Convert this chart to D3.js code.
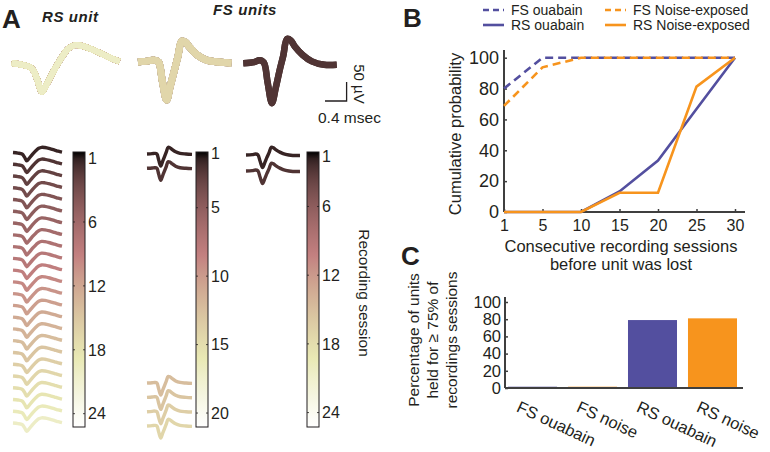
<!DOCTYPE html>
<html><head><meta charset="utf-8">
<script src="https://cdn.jsdelivr.net/npm/d3@7"></script>
<style>
body{margin:0;background:#fff}
svg{display:block}
text{font-family:"Liberation Sans",Arial,Helvetica,sans-serif;fill:#231f20}
</style>
</head><body>
<svg id="c" width="770" height="452"></svg>
<script>
// ---------------- DATA ----------------
// Panel A: waveform templates (time in ms, amplitude in µV)
const rsTime = [0, 0.2, 0.37, 0.47, 0.56, 0.65, 0.8, 0.95, 1.05, 1.17, 1.3, 1.5, 1.7, 1.85, 2.0];
const rsAmp  = [0, -5, -14, -42, -76, -55, -15, 20, 38, 47, 45, 35, 22, 12, 4];
const fsTime = [0, 0.2, 0.3, 0.38, 0.45, 0.53, 0.6, 0.67, 0.74, 0.81, 0.88, 0.95, 1.1, 1.27, 1.5, 1.73];
const fs1Amp = [0, 3, 5, 0, -50, -100, -62, -24, 15, 55, 52, 40, 18, 5, 0, -3];
const fs2Amp = [0, 3, 8, 2, -50, -105, -65, -20, 20, 64, 60, 45, 22, 5, -4, -4];
const rsSessions  = [1,2,3,4,5,6,7,8,9,10,11,12,13,14,15,16,17,18,19,20,21,22,23,24];
const fs1Sessions = [1,2,17,18,19,20];
const fs2Sessions = [1,2];
const cb1Ticks = [0,6,12,18,24],   cb1Labels = ["1","6","12","18","24"];
const cb2Ticks = [1,5,10,15,20],   cb2Labels = ["1","5","10","15","20"];
const cb3Ticks = [1.6,6,12,18,24], cb3Labels = ["1","6","12","18","24"];

// Panel B: cumulative probability
const bCategories = ["1","5","10","15","20","25","30"];
const fsOuabain = [80, 100, 100, 100, 100, 100, 100];
const fsNoise   = [68.75, 93.75, 100, 100, 100, 100, 100];
const rsOuabain = [0, 0, 0, 13.3, 33.3, 66.7, 100];
const rsNoise   = [0, 0, 0, 12.5, 12.5, 81.25, 100];
const bYTicks = [0,20,40,60,80,100];

// Panel C: bars
const cCategories = ["FS ouabain","FS noise","RS ouabain","RS noise"];
const cValues = [1.5, 1.5, 79, 81];
const cYTicks = [0,20,40,60,80,100];

// ---------------- STYLE ----------------
const BLUE = "#534f9f", ORANGE = "#f7941d", AXIS = "#3f3f3f";
const svg = d3.select("#c");

function pinkMap(t){ // MATLAB "pink" colormap
  const hr = Math.min(1, t*8/3),
        hg = Math.max(0, Math.min(1, (t-3/8)*8/3)),
        hb = Math.max(0, Math.min(1, (t-0.75)*4));
  return d3.rgb(255*Math.sqrt((2*t+hr)/3), 255*Math.sqrt((2*t+hg)/3), 255*Math.sqrt((2*t+hb)/3)).formatHex();
}
const sessionT = d3.scaleLinear().domain([1,24]).range([0.03,0.80]);
const sessionColor = s => pinkMap(sessionT(s));

function waveLine(xs, ys){
  return d3.line().x(d=>xs(d[0])).y(d=>ys(d[1])).curve(d3.curveCatmullRom.alpha(0.5));
}
const rsPts  = rsTime.map((t,i)=>[t, rsAmp[i]]);
const fs1Pts = fsTime.map((t,i)=>[t, fs1Amp[i]]);
const fs2Pts = fsTime.map((t,i)=>[t, fs2Amp[i]]);

// ---------------- PANEL A ----------------
const gA = svg.append("g");
gA.append("text").attr("x",2).attr("y",28).attr("font-size",26).attr("font-weight","bold").text("A");
gA.append("text").attr("x",42).attr("y",22).attr("font-size",15).attr("font-weight","bold")
  .attr("font-style","italic").attr("letter-spacing","0.6px").text("RS unit");
gA.append("text").attr("x",213).attr("y",15).attr("font-size",15).attr("font-weight","bold")
  .attr("font-style","italic").attr("letter-spacing","0.6px").text("FS units");

// top averaged waveforms (all sessions overlaid)
const pxPerMs = 54, pxPerUv = 0.38;
function topScales(x0, base){
  return [d3.scaleLinear().domain([0,1]).range([x0, x0+pxPerMs]),
          d3.scaleLinear().domain([0,1]).range([base, base-pxPerUv])];
}
const [rsX, rsY] = topScales(11.7, 63);
const [f1X, f1Y] = topScales(138, 62);
const [f2X, f2Y] = topScales(243.3, 63.3);
function drawTop(sessions, pts, xs, ys, w){
  gA.append("g").selectAll("path").data(sessions).join("path")
    .attr("d", ()=>waveLine(xs,ys)(pts))
    .attr("fill","none").attr("stroke", s=>sessionColor(s))
    .attr("stroke-width", w).attr("stroke-linejoin","round").attr("stroke-linecap","butt");
}
drawTop(rsSessions, rsPts, rsX, rsY, 6);
drawTop(fs1Sessions, fs1Pts, f1X, f1Y, 7);
drawTop(fs2Sessions, fs2Pts, f2X, f2Y, 6.5);

// scale bar: 0.4 ms x 50 µV
const sbX = d3.scaleLinear().domain([0,1]).range([325, 325+pxPerMs]);
const sbY = d3.scaleLinear().domain([0,1]).range([101, 101-pxPerUv]);
gA.append("path").attr("d", `M${sbX(0)},${sbY(0)}H${sbX(0.4)}V${sbY(50)}`)
  .attr("fill","none").attr("stroke","#231f20").attr("stroke-width",1.3);
gA.append("text").attr("transform","translate(354,84) rotate(90)").attr("text-anchor","middle")
  .attr("font-size",15).text("50 µV");
gA.append("text").attr("x",318).attr("y",123).attr("font-size",15.5).text("0.4 msec");

// stacked per-session waveforms
function drawStack(sessions, pts, xr, dom, yr, amp, w){
  const xs = d3.scaleLinear().domain([0, d3.max(pts, d=>d[0])]).range(xr);
  const base = d3.scaleLinear().domain(dom).range(yr);
  gA.append("g").selectAll("path").data(sessions).join("path")
    .attr("d", s=>{
      const ys = d3.scaleLinear().domain([0,1]).range([base(s), base(s)-amp]);
      return waveLine(xs, ys)(pts);
    })
    .attr("fill","none").attr("stroke", s=>sessionColor(s))
    .attr("stroke-width", w).attr("stroke-linejoin","round");
}
drawStack(rsSessions, rsPts, [13,62], [1,24], [152.5,423], 0.11, 3.4);
drawStack(fs1Sessions, fs1Pts, [147,192], [1,20], [154,426], 0.12, 3.4);
drawStack(fs2Sessions, fs2Pts, [246,300], [1,2], [155,171], 0.12, 3.4);

// colorbars
const defs = svg.append("defs");
const grad = defs.append("linearGradient").attr("id","pinkGrad").attr("x1",0).attr("x2",0).attr("y1",0).attr("y2",1);
d3.range(0, 1.0001, 1/40).forEach(t=>grad.append("stop").attr("offset",t).attr("stop-color",pinkMap(t)));
function colorbar(x, dom, ticks, labels){
  const y = d3.scaleLinear().domain(dom).range([152, 427]);
  const g = gA.append("g");
  g.append("rect").attr("x",x).attr("y",152).attr("width",12).attr("height",275)
    .attr("fill","url(#pinkGrad)").attr("stroke","#231f20").attr("stroke-width",1);
  g.selectAll("line.tk").data(ticks).join("line").attr("class","tk")
    .attr("x1",x).attr("x2",x+2).attr("y1",d=>y(d)).attr("y2",d=>y(d))
    .attr("stroke","#231f20").attr("stroke-width",0.8);
  g.selectAll("line.tk2").data(ticks).join("line").attr("class","tk2")
    .attr("x1",x+10).attr("x2",x+12).attr("y1",d=>y(d)).attr("y2",d=>y(d))
    .attr("stroke","#231f20").attr("stroke-width",0.8);
  g.selectAll("text").data(ticks).join("text")
    .attr("x",x+15).attr("y",d=>y(d)).attr("dy","0.36em").attr("font-size",16)
    .text((d,i)=>labels[i]);
}
colorbar(73, [-0.57, 25.25], cb1Ticks, cb1Labels);
colorbar(196, [0.93, 21.02], cb2Ticks, cb2Labels);
colorbar(307, [1.24, 25.26], cb3Ticks, cb3Labels);
gA.append("text").attr("transform","translate(358.5,293) rotate(90)").attr("text-anchor","middle")
  .attr("font-size",15.5).text("Recording session");

// ---------------- PANEL B ----------------
const gB = svg.append("g");
gB.append("text").attr("x",403).attr("y",27).attr("font-size",26).attr("font-weight","bold").text("B");
const bx = d3.scalePoint().domain(bCategories).range([504, 735]);
const by = d3.scaleLinear().domain([0,105]).range([212, 50]);
const bxAxis = gB.append("g").attr("transform","translate(0,212)")
  .call(d3.axisBottom(bx).tickSize(-3).tickPadding(8));
bxAxis.select(".domain").attr("d","M504,0H745");
const byAxis = gB.append("g").attr("transform","translate(504,0)")
  .call(d3.axisLeft(by).tickValues(bYTicks).tickSize(-3).tickPadding(5));
byAxis.select(".domain").attr("d","M0,50V212");
[bxAxis, byAxis].forEach(a=>{
  a.select(".domain").attr("stroke",AXIS).attr("stroke-width",2);
  a.selectAll(".tick line").attr("stroke",AXIS).attr("stroke-width",1.5);
  a.selectAll(".tick text").attr("fill","#231f20").attr("font-family",null);
});
bxAxis.selectAll(".tick text").attr("font-size",16);
byAxis.selectAll(".tick text").attr("font-size",18);
const bLine = d3.line().x((d,i)=>bx(bCategories[i])).y(d=>by(d));
const bSeries = [
  {v:fsOuabain, c:BLUE, dash:"8,5"},
  {v:fsNoise, c:ORANGE, dash:"8,5"},
  {v:rsOuabain, c:BLUE, dash:null},
  {v:rsNoise, c:ORANGE, dash:null}
];
gB.append("g").selectAll("path").data(bSeries).join("path")
  .attr("d", d=>bLine(d.v)).attr("fill","none").attr("stroke",d=>d.c)
  .attr("stroke-width",2.6).attr("stroke-dasharray",d=>d.dash);
gB.append("text").attr("transform","translate(461,134) rotate(-90)").attr("text-anchor","middle")
  .attr("font-size",16.5).text("Cumulative probability");
gB.append("text").attr("x",621).attr("y",252).attr("text-anchor","middle").attr("font-size",16.5)
  .text("Consecutive recording sessions");
gB.append("text").attr("x",621).attr("y",270).attr("text-anchor","middle").attr("font-size",16.5)
  .text("before unit was lost");
const legend = [
  {t:"FS ouabain", c:BLUE, dash:"6,4", x:483, y:10},
  {t:"RS ouabain", c:BLUE, dash:null, x:483, y:25},
  {t:"FS Noise-exposed", c:ORANGE, dash:"6,4", x:605, y:10},
  {t:"RS Noise-exposed", c:ORANGE, dash:null, x:605, y:25}
];
const lg = gB.append("g").selectAll("g").data(legend).join("g");
lg.append("line").attr("x1",d=>d.x).attr("x2",d=>d.x+21).attr("y1",d=>d.y).attr("y2",d=>d.y)
  .attr("stroke",d=>d.c).attr("stroke-width",2.6).attr("stroke-dasharray",d=>d.dash);
lg.append("text").attr("x",d=>d.x+28).attr("y",d=>d.y+5).attr("font-size",14).text(d=>d.t);

// ---------------- PANEL C ----------------
const gC = svg.append("g");
gC.append("text").attr("x",401).attr("y",265).attr("font-size",26).attr("font-weight","bold").text("C");
const cx = d3.scaleBand().domain(cCategories).range([505, 740]).paddingInner(0.183).paddingOuter(0.05);
const cy = d3.scaleLinear().domain([0,100]).range([388, 302]);
gC.append("g").selectAll("rect").data(cCategories).join("rect")
  .attr("x",d=>cx(d)).attr("width",cx.bandwidth())
  .attr("y",(d,i)=>cy(cValues[i])).attr("height",(d,i)=>cy(0)-cy(cValues[i]))
  .attr("fill",(d,i)=> i%2===0 ? BLUE : ORANGE);
const cyAxis = gC.append("g").attr("transform","translate(505,0)")
  .call(d3.axisLeft(cy).tickValues(cYTicks).tickSize(-3).tickPadding(4));
cyAxis.select(".domain").attr("d","M0,297V388");
const cxAxis = gC.append("g").attr("transform","translate(0,388)")
  .call(d3.axisBottom(cx).tickSize(0).tickFormat(""));
cxAxis.select(".domain").attr("d","M505,0H743");
[cxAxis, cyAxis].forEach(a=>{
  a.select(".domain").attr("stroke",AXIS).attr("stroke-width",2);
  a.selectAll(".tick line").attr("stroke",AXIS).attr("stroke-width",1.5);
  a.selectAll(".tick text").attr("fill","#231f20").attr("font-family",null).attr("font-size",16.5);
});
gC.append("g").selectAll("text").data(cCategories).join("text")
  .attr("transform",d=>`translate(${cx(d)+cx.bandwidth()/2-17},411) rotate(25)`)
  .attr("font-size",16.5).text(d=>d);
const cTitle = ["Percentage of units","held for \u2265 75% of","recordings sessions"];
gC.append("g").selectAll("text").data(cTitle).join("text")
  .attr("transform",(d,i)=>`translate(${419+i*19},340) rotate(-90)`)
  .attr("text-anchor","middle").attr("font-size",15.5).text(d=>d);
</script>
</body></html>
